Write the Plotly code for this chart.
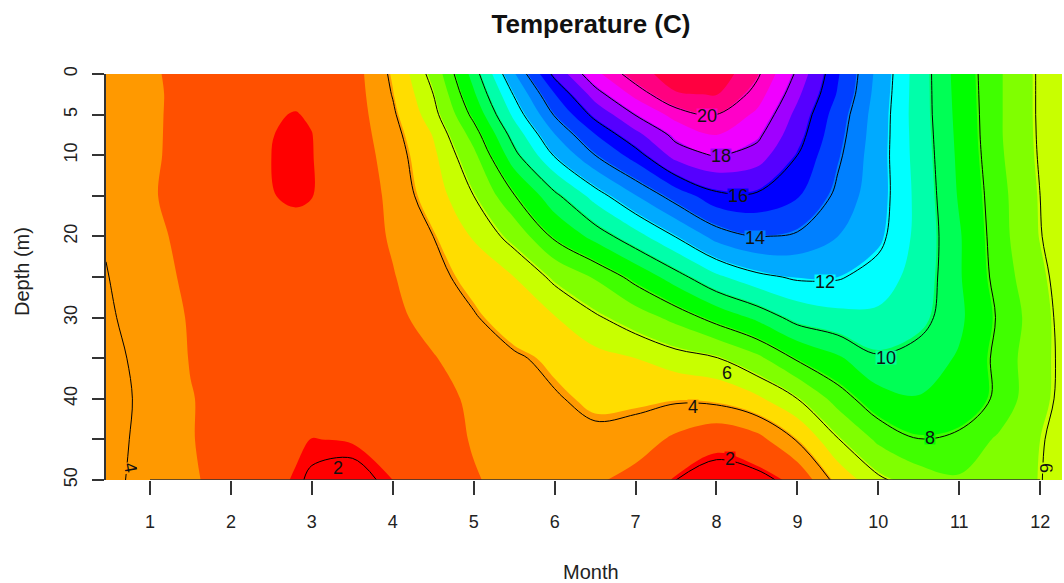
import plotly.graph_objects as go

months = [0.456, 1, 1.5, 2, 2.5, 2.8, 3, 3.5, 4, 4.5, 5, 5.5, 6, 6.5, 7, 7.5, 8, 8.5, 9, 9.5, 10, 10.5, 11, 11.5, 12, 12.27]
depths = [0, 2.5, 5, 7.5, 10, 15, 20, 25, 30, 35, 40, 45, 50]

temp_d00 = [3.8, 3.2, 2.85, 2.5, 2.35, 2.3, 2.35, 2.65, 4.2, 6.4, 9.5, 13, 16.3, 18.8, 20.6, 21.7, 21.8, 20.2, 17.8, 15.2, 12.8, 10.6, 8.7, 7.2, 5.85, 5.3]
temp_d02 = [3.8, 3.25, 2.82, 2.45, 2.28, 2.2, 2.25, 2.62, 4.05, 6.0, 8.95, 12.1, 15.05, 17.55, 19.4, 21.0, 21.15, 19.6, 17.3, 15.0, 12.7, 10.6, 8.75, 7.2, 5.85, 5.3]
temp_d05 = [3.8, 3.25, 2.8, 2.4, 2.14, 2.08, 2.15, 2.6, 3.85, 5.65, 8.3, 11.35, 14.1, 16.35, 18.05, 19.5, 20.05, 18.9, 16.8, 14.6, 12.6, 10.6, 8.8, 7.2, 5.85, 5.3]
temp_d07 = [3.8, 3.25, 2.78, 2.38, 2.11, 2.03, 2.09, 2.58, 3.65, 5.15, 7.5, 10.45, 13.05, 15.05, 16.8, 18.3, 19.1, 18.25, 16.45, 14.4, 12.55, 10.65, 8.85, 7.2, 5.87, 5.3]
temp_d10 = [3.85, 3.25, 2.75, 2.35, 2.1, 2.0, 2.08, 2.55, 3.5, 4.9, 6.85, 9.7, 12.1, 14.0, 15.55, 17.5, 18.1, 17.6, 16, 14.2, 12.5, 10.7, 8.9, 7.25, 5.9, 5.3]
temp_d15 = [3.85, 3.2, 2.7, 2.3, 2.11, 2.06, 2.09, 2.55, 3.3, 4.6, 6.0, 7.95, 9.75, 11.5, 13.05, 14.5, 15.75, 15.85, 15.2, 13.75, 12.5, 10.8, 9.0, 7.4, 6.0, 5.4]
temp_d20 = [3.95, 3.4, 2.75, 2.3, 2.15, 2.2, 2.2, 2.6, 3.2, 4.0, 5.2, 6.4, 8.2, 9.4, 10.7, 12.05, 13.45, 14.05, 13.85, 13.1, 12.3, 10.8, 9.2, 7.45, 6.05, 5.5]
temp_d25 = [4.03, 3.6, 2.85, 2.4, 2.2, 2.2, 2.2, 2.6, 3.05, 3.65, 4.45, 5.1, 6.25, 7.2, 8.35, 9.6, 10.9, 11.75, 12.15, 12.1, 11.6, 10.7, 9.2, 7.6, 6.3, 5.6]
temp_d30 = [4.08, 3.75, 3.0, 2.5, 2.3, 2.25, 2.25, 2.5, 2.9, 3.4, 3.9, 4.65, 5.05, 5.85, 6.6, 7.4, 8.4, 9.3, 10.4, 10.8, 10.9, 10.4, 9.3, 7.85, 6.5, 5.7]
temp_d35 = [4.09, 3.9, 3.05, 2.6, 2.35, 2.25, 2.25, 2.45, 2.8, 3.05, 3.5, 3.85, 4.3, 4.8, 5.1, 5.6, 5.95, 6.85, 8.15, 8.95, 9.9, 9.6, 9.0, 7.7, 6.35, 5.85]
temp_d40 = [4.09, 3.94, 3.15, 2.7, 2.45, 2.35, 2.3, 2.45, 2.7, 2.9, 3.2, 3.5, 3.9, 4.3, 4.25, 4.15, 4.3, 4.9, 6.0, 7.5, 8.7, 9.05, 9.0, 7.7, 6.35, 5.8]
temp_d45 = [4.09, 3.92, 3.15, 2.7, 2.3, 2.2, 2.09, 2.13, 2.55, 2.8, 3.15, 3.4, 3.6, 3.75, 3.6, 2.9, 2.3, 2.75, 4.1, 5.95, 7.3, 7.98, 7.7, 6.95, 6.1, 5.65]
temp_d50 = [4.08, 3.9, 3.2, 2.8, 2.25, 2.05, 1.95, 1.85, 2.1, 2.6, 3.05, 3.3, 3.45, 3.25, 2.75, 2.0, 1.7, 1.75, 2.3, 4.4, 5.8, 6.6, 7.0, 6.8, 6.05, 5.55]

month_ticks = list(range(1, 13))
depth_ticks = [0, 5, 10, 15, 20, 25, 30, 35, 40, 45, 50]
depth_labels = ["0", "5", "10", "", "20", "", "30", "", "40", "", "50"]

label_texts = ["20", "18", "16", "14", "12", "10", "8", "6", "4", "2", "2", "4", "6"]
label_months = [7.88, 8.05, 8.27, 8.48, 9.34, 10.1, 10.64, 8.13, 7.71, 8.17, 3.32, 0.755, 12.07]
label_depths = [5.05, 10.0, 15.0, 20.1, 25.5, 34.9, 44.8, 36.7, 41.0, 47.3, 48.4, 48.5, 48.5]
label_fills = ["#FF00C8", "#A000FF", "#0000FF", "#0080FF", "#00FFFF", "#00FF99", "#00FF00", "#C8FF00", "#FF9900", "#FF0000", "#FF0000", "#FF9900", "#C8FF00"]
label_angles = [0, 0, 0, 0, 0, 0, 0, 0, 0, 0, 0, 80, 90]

z = [temp_d00, temp_d02, temp_d05, temp_d07, temp_d10, temp_d15, temp_d20, temp_d25, temp_d30, temp_d35, temp_d40, temp_d45, temp_d50]

band_colors = ["#FF0000", "#FF5000", "#FF9900", "#FFDD00", "#C8FF00", "#80FF00", "#40FF00", "#00FF00",
               "#00FF55", "#00FFAA", "#00FFFF", "#00AAFF", "#0080FF", "#0040FF", "#0000FF", "#5500FF",
               "#A000FF", "#F000FF", "#FF00C8", "#FF0080", "#FF0040"]
n = len(band_colors) - 1
scale = [[i / n, c] for i, c in enumerate(band_colors)]

FONT = "Liberation Sans, Arial, sans-serif"
INK = "#222222"

fig = go.Figure()
fig.add_trace(go.Contour(
    x=months, y=depths, z=z, colorscale=scale, showscale=False, hoverinfo="skip",
    contours=dict(coloring="fill", start=2.1, end=21.1, size=1, showlines=False),
    line=dict(width=0),
))
fig.add_trace(go.Contour(
    x=months, y=depths, z=z, showscale=False, hoverinfo="skip",
    contours=dict(coloring="none", start=2, end=20, size=2, showlabels=False),
    line=dict(color="black", width=1),
))
fig.add_trace(go.Scatter(x=[month_ticks[0], month_ticks[-1]], y=[depths[-1], depths[-1]], mode="lines",
                         line=dict(color="#333333", width=1.5), hoverinfo="skip", showlegend=False, cliponaxis=False))

for text, mx, dy, fill, angle in zip(label_texts, label_months, label_depths, label_fills, label_angles):
    fig.add_annotation(x=mx, y=dy, text=text, showarrow=False, textangle=angle, bgcolor=fill, borderpad=0, height=13,
                       font=dict(family=FONT, size=18, color="#111111"))

fig.add_annotation(xref="paper", yref="paper", x=485 / 956, y=-92 / 406, xanchor="center", yanchor="middle",
                   text="Month", showarrow=False, font=dict(family=FONT, size=20, color=INK))
fig.add_annotation(xref="paper", yref="paper", x=-84 / 956, y=(480 - 272) / 406, xanchor="center", yanchor="middle",
                   text="Depth (m)", showarrow=False, textangle=-90, font=dict(family=FONT, size=20, color=INK))

fig.update_layout(
    width=1064, height=583, autosize=False,
    margin=dict(l=106, r=2, t=74, b=103),
    paper_bgcolor="white", plot_bgcolor="white", showlegend=False,
    font=dict(family=FONT, color=INK, size=18),
    title=dict(text="<b>Temperature (C)</b>", x=591 / 1064, xanchor="center", y=1 - 24 / 583, yanchor="middle",
               font=dict(family=FONT, size=26, color="#111111")),
    xaxis=dict(range=[months[0], months[-1]], tickmode="array", tickvals=month_ticks, ticktext=[str(m) for m in month_ticks],
               ticks="outside", ticklen=14, tickwidth=1.5, tickcolor="#333333", showgrid=False, zeroline=False,
               showline=False, tickfont=dict(size=18, color=INK), ticklabelstandoff=11),
    yaxis=dict(range=[depths[-1], depths[0]], tickmode="array", tickvals=depth_ticks, ticktext=depth_labels,
               ticks="outside", ticklen=12, tickwidth=1.5, tickcolor="#333333", tickangle=-90, showgrid=False, zeroline=False,
               showline=True, linecolor="#333333", linewidth=1.5, tickfont=dict(size=18, color=INK), ticklabelstandoff=8),
)
fig.write_html("out.html", post_script="document.body.style.margin='0';", config={"displayModeBar": False})
